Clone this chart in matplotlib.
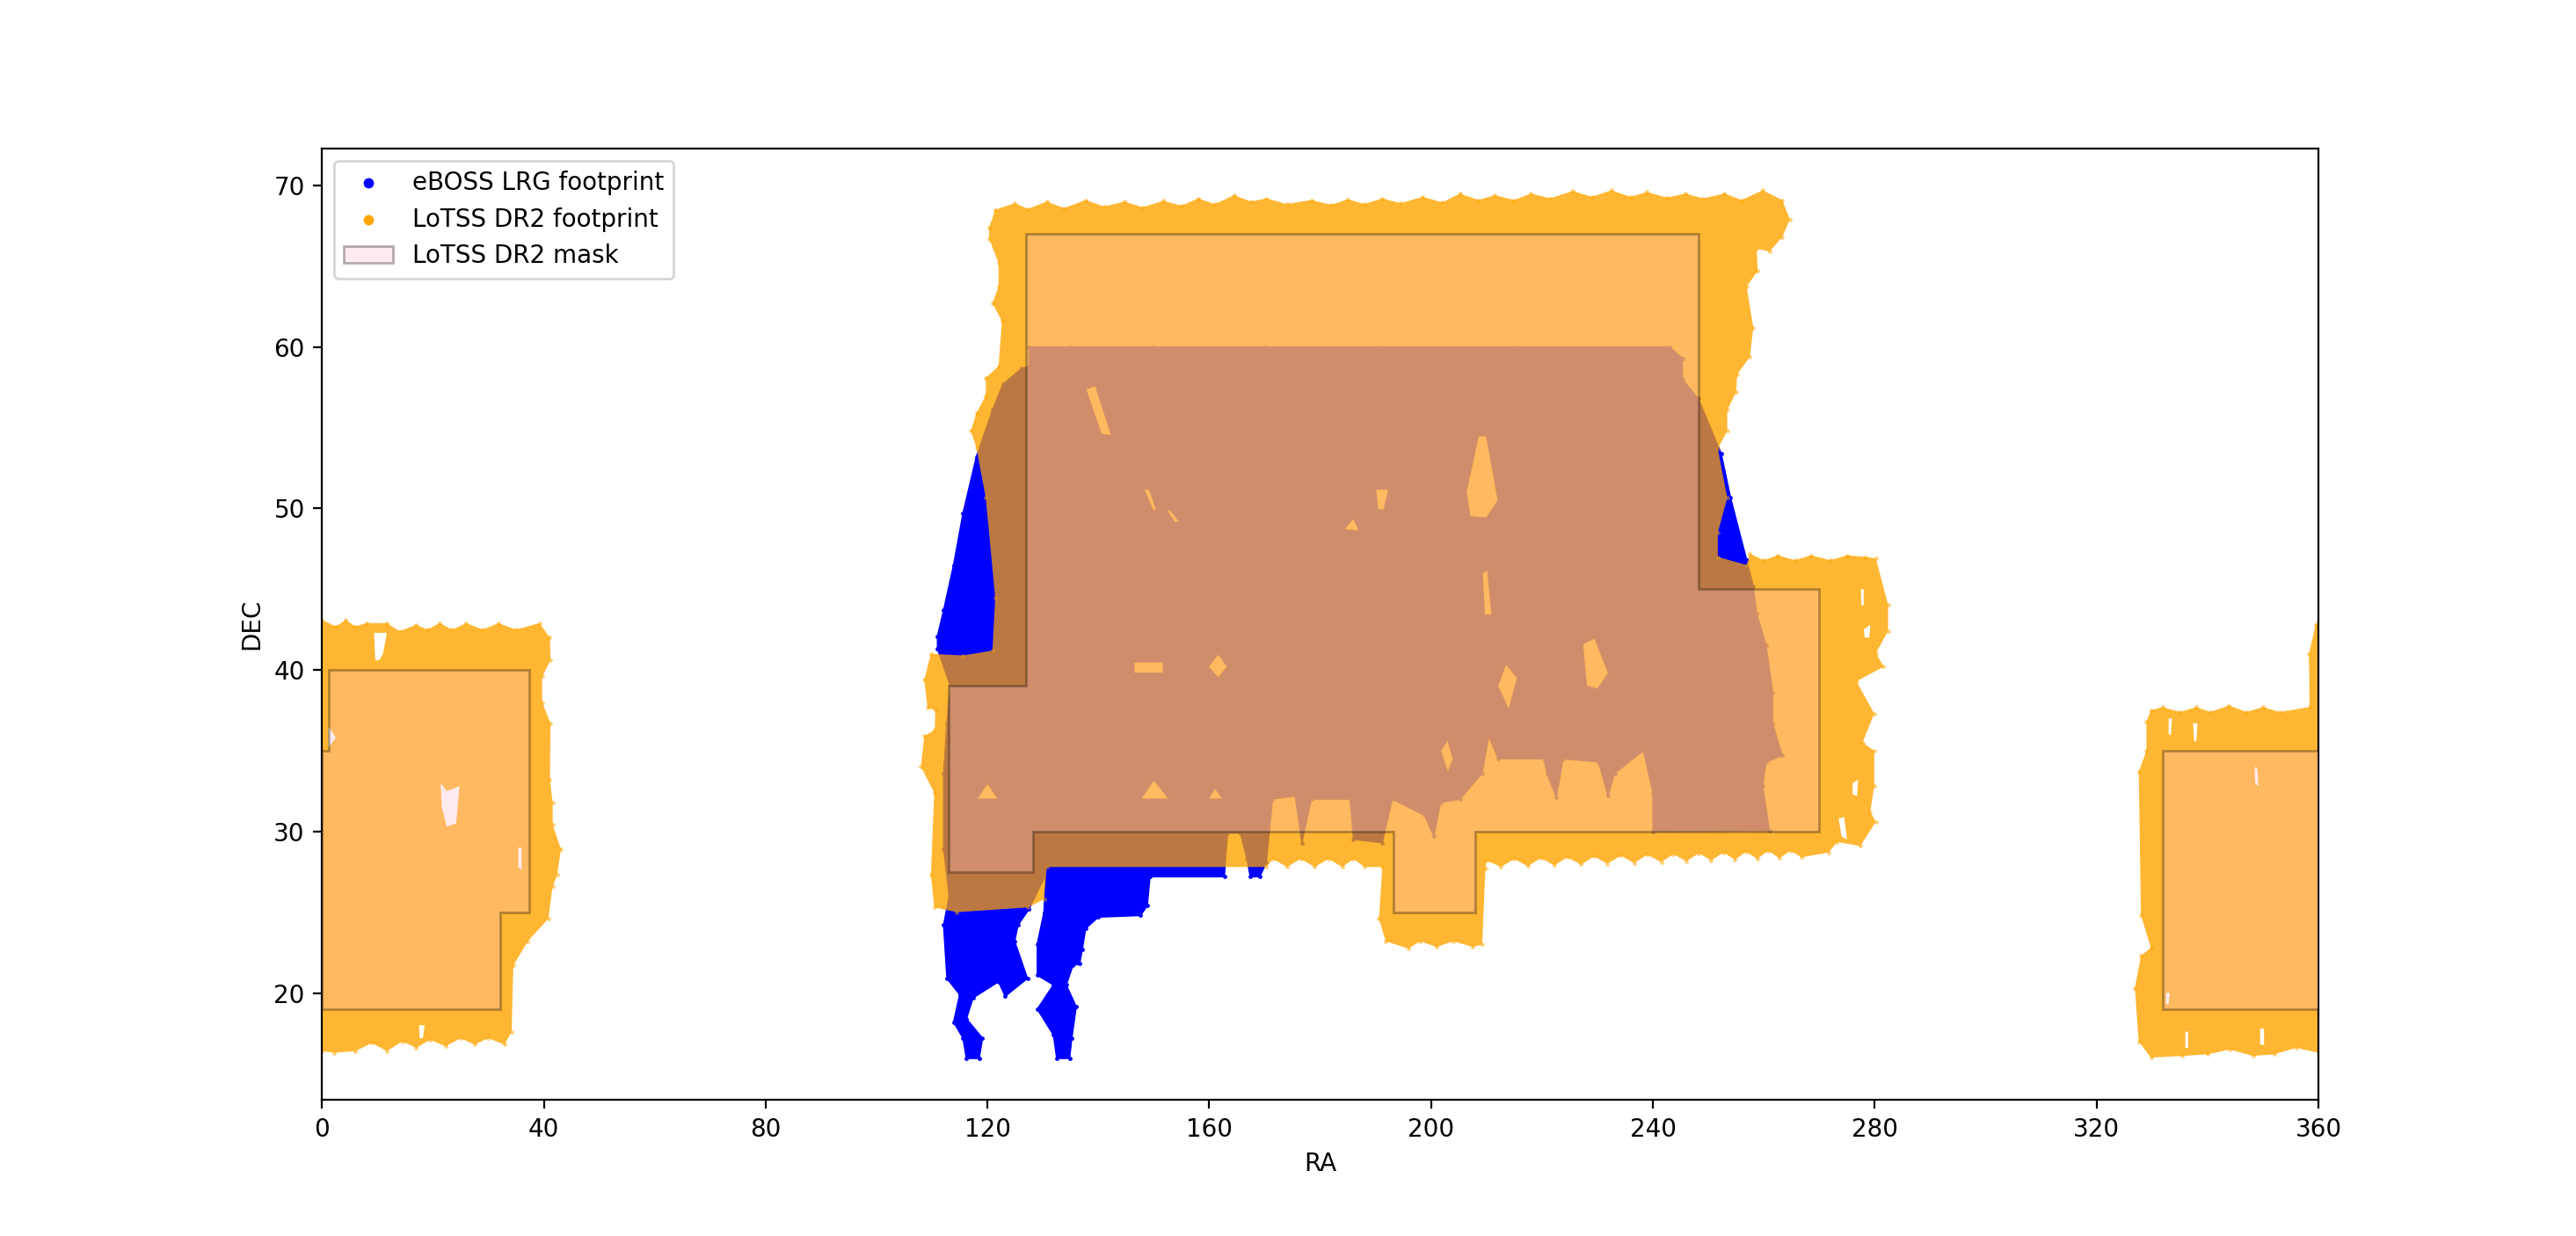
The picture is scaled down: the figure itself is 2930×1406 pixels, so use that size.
import numpy as np
import matplotlib
matplotlib.use('Agg')
import matplotlib.pyplot as plt
from matplotlib.path import Path
from matplotlib.patches import PathPatch

# footprint outlines, (RA, DEC)
eboss_outline = [
    (127.5,60),(135,60),(150,60),(170,60),(190,60),(215,60),(243,60),(245.3,59.3),(245.3,58),(248.2,56.8),
    (252.3,53.4),(254,50.65),(256.9,46.8),(258.1,45.2),(258.7,43.5),(260.4,41.55),(261.6,38.6),(261.6,36.7),
    (263.3,34.7),(260.4,34.3),(259.8,32.8),(261,30.05),(240,30),(240,32.4),(238.3,35),(233.1,33.6),(231.9,32.2),
    (230.2,34.3),(223.8,34.5),(222.6,32.1),(220.9,33.6),(220.3,34.5),(212.1,34.5),(210.4,35.9),(209.2,33.6),
    (205.2,32),(201.7,31.8),(200.5,29.7),(198.8,31),(193,32),(191.2,29.3),(186,29.5),(185.4,32),(178.4,32),
    (176.7,29.3),(175.5,32.2),(171.4,32),(170.3,28.1),(169.1,27.2),(167.4,27.2),(166.8,28.3),(165.6,29.9),
    (163.3,29.9),(162.7,27.2),(149.3,27.2),(148.8,25.4),(147.6,24.8),(140,24.7),(137.7,24),(137.1,22.7),
    (136.6,21.8),(135.4,21.7),(134.2,20.5),(136,19.15),(135.2,17.2),(134.8,15.95),(132.5,15.95),(131.9,17.4),
    (129,19),(131.9,20.5),(129,21.1),(129,23.05),(130.2,25),(130.5,27.3),(127.5,25.2),(125.5,24.2),(124.9,23.2),
    (127.2,20.9),(123.2,19.8),(122,20.7),(117.4,19.7),(116.2,18.4),(119.1,17.2),(118.5,15.95),(116.2,15.95),
    (115.6,17.2),(113.9,18.2),(115,19.9),(112.7,20.9),(112.1,24.2),(113.1,26),(112.1,28.9),(112.1,33.6),
    (112.7,36.7),(113.3,39),(111,41.3),(111,42.1),(112.1,43.7),(113.9,46.5),(115.6,49.7),(118,53.2),(120.9,56.1),
    (122.8,57.7),(126.1,58.65),(127.5,58.8),
]
eboss_holes = [
    [(137.7,57.4),(139.5,57.6),(142.4,54.5),(140.5,54.6)],
    [(208.5,54.5),(210,54.5),(212.1,50.5),(210,49.4),(207,49.5),(206.3,51)],
    [(227.3,41.6),(229.5,42),(232,39.8),(230,38.8),(228,39)],
    [(212,39),(213.5,40.4),(215.6,39.5),(214,37.5)],
    [(201.7,35),(203,35.7),(204,34.5),(203,33.6)],
    [(190,51.2),(192.4,51.2),(191.5,49.9),(190.4,49.9)],
    [(184.2,48.7),(186,49.4),(187.1,48.6)],
    [(148.2,51.2),(149.2,51.2),(150.5,49.9),(149.8,49.9)],
    [(152.3,49.9),(153,49.9),(154.6,49.2),(153.8,49.1)],
    [(209.2,46),(210.2,46.2),(211,43.4),(209.6,43.4)],
    [(146.4,40.5),(151.7,40.5),(151.7,39.8),(146.4,39.8)],
    [(159.8,40.2),(161.6,41),(163.3,40.2),(161.6,39.5)],
    [(118,32),(120,33),(122,32)],
    [(147.6,32),(150,33.2),(152.8,32)],
    [(159.8,32),(161,32.7),(162.5,32)],
]
lotss_main = [
    (120.3,67.4),(121.4,68.5),(124.9,68.9),(127.3,68.55),(130.7,69),(133.8,68.6),(137.7,69.1),(141,68.7),(144.7,69),
    (148,68.65),(151.7,69.05),(155,68.75),(158,69.2),(161,68.85),(164.5,69.4),(167.5,69),(170.3,69.2),(174,68.85),
    (178.4,69.1),(182,68.8),(185,69.15),(188,68.85),(191.2,69.2),(194.5,68.9),(198.5,69.3),(202,68.95),(205.2,69.5),
    (208.5,69.1),(211.5,69.4),(215,69.1),(218,69.5),(221.5,69.2),(225.5,69.66),(229,69.3),(232.5,69.7),(236,69.3),
    (238.9,69.6),(242.5,69.25),(245.9,69.5),(249,69.2),(252.9,69.5),(256,69.1),(259.8,69.7),(263.3,69.1),(264.7,67.9),
    (263.3,66.8),(261,65.9),(258.7,66.1),(258.9,64.7),(256.9,63.75),(258.1,61.2),(257.5,59.4),(255.2,58.3),(255,57.2),
    (253.4,56.1),(253.4,54.8),(251.7,53.7),(253.4,50.65),(251.7,48.5),(251.7,47),(256.9,46.5),(257.5,47.2),
    (260,46.8),(262.5,47.1),(265.6,46.8),(268.5,47.1),(272,46.8),(275,47.1),(278.4,47),(280.2,46.9),(282.4,44.05),
    (282.4,42.4),(280.2,41.05),(281.6,40.2),(276.7,39.3),(279.9,37.3),(277.8,35.5),(279.9,35),(279.9,32.8),(279.2,31.2),
    (280.2,30.6),(277.4,29.1),(273.2,29.35),(271.7,28.7),(266.8,28.4),(264.8,28.8),(262.8,28.35),(260.8,28.8),
    (258.8,28.3),(256.8,28.75),(254.8,28.25),(252.7,28.7),(250.5,28.2),(248.3,28.65),(246,28.15),(243.7,28.6),
    (241.5,28.1),(239,28.55),(236.6,28.05),(234.2,28.5),(231.8,28),(229.4,28.45),(227,27.95),(224.6,28.4),(222.2,27.9),
    (219.8,28.35),(217.4,27.85),(215,28.3),(212.6,27.8),(210,28.2),(209.8,27.7),(209.2,23),(207.5,22.85),(204,23.2),
    (201,22.85),(198,23.2),(195.9,22.75),(191.8,23.2),(190.6,24.6),(191.2,27.8),(188,27.8),(186,28.3),(184,27.8),
    (181.5,28.3),(179,27.8),(176.5,28.3),(174,27.8),(171.5,28.3),(170.3,27.8),(130.7,27.8),(130.2,25.8),(127.3,25.3),
    (114.5,25),(110.4,25.3),(109.8,27.3),(110.4,32.4),(108,34),(108.6,35.9),(110.5,36.3),(110.6,37.5),(109.2,37.65),
    (108.6,39.4),(109.8,41),(115.6,40.9),(120.9,41.2),(121.4,44.47),(119.7,50.65),(118,53.76),(117,54.8),(118,55.9),
    (119.7,57),(119.7,58.1),(122,58.8),(122.6,61.6),(120.9,62.7),(122,63.75),(122,65.2),(120.3,66.7),
]
lotss_main_holes = [
    [(273.5,30.8),(274.5,30.9),(275,29.5),(274,29.7)],
    [(276,33),(277,33.2),(276.8,32.2),(276,32.3)],
    [(277.5,45),(278,45),(278,44),(277.6,44)],
    [(278,42.5),(279.2,42.8),(279,42),(278.2,42)],
]
lotss_left = [
    (0,43.1),(2.5,42.7),(4.3,43.1),(6,42.7),(8,42.9),(11.7,42.9),(14,42.4),(17,42.8),(19,42.5),(21.2,42.9),(23.5,42.5),
    (26,42.9),(29,42.5),(31.8,42.9),(35,42.5),(39.2,42.9),(41.1,42),(41.2,40.6),(39.7,39.6),(39.7,38),(41.2,36.7),
    (41.1,33.2),(41.6,31.8),(41.6,30.4),(43.1,28.9),(42.4,27.3),(41.6,26.6),(40.8,24.6),(37.1,23.2),(34.5,21.7),
    (34.2,17.6),(32.9,16.8),(30,17.2),(27.5,16.8),(25,17.2),(22.3,16.7),(19.5,17.1),(17,16.6),(14.5,17),(11.7,16.4),
    (9,16.9),(6,16.4),(2.2,16.3),(0,16.4),
]
lotss_left_holes = [
    [(9.4,42.3),(11.7,42.3),(11,41),(10.3,40.6),(9.6,40.6)],
    [(21.4,33),(22.5,32.5),(24.8,32.8),(24.2,30.5),(22.5,30.3),(21.6,31.5)],
    [(1.2,36.5),(2.5,35.8),(1.2,35.2)],
    [(35.4,29),(36,29),(36,27.6),(35.4,27.8)],
    [(17.5,18),(18.5,18),(18.2,17.2),(17.6,17.2)],
]
lotss_right = [
    (329.8,37.5),(331.9,37.7),(335,37.4),(338,37.7),(340.5,37.4),(343.9,37.8),(347,37.4),(350,37.7),(353,37.4),(358.4,37.7),
    (358.3,41),(359.5,42.8),(360,43),(360,16.3),(356,16.6),(352,16.2),(348.2,16.1),(344,16.5),(340,16.2),(335.4,16.1),
    (329.8,16),(327.6,17),(326.9,20.3),(328,22.3),(329.8,22.8),(328,24.8),(327.6,33.7),(329,35),(329,36.8),
]
lotss_right_holes = [
    [(348.5,34),(349,33.9),(349.2,32.8),(348.6,33)],
    [(332.5,20),(333.2,20),(333,19.3),(332.5,19.3)],
    [(337.4,36.7),(338.2,36.7),(338,35.6),(337.6,35.6)],
    [(333,37),(333.6,37),(333.4,36),(333,36)],
    [(336,17.6),(336.5,17.6),(336.5,16.6),(336,16.6)],
    [(349.5,17.8),(350.2,17.8),(350.2,16.8),(349.5,16.8)],
]
mask_main = [
    (113,27.5),(128.2,27.5),(128.2,30),(193.2,30),(193.2,25),(208,25),(208,30),(270,30),(270,45),(248.2,45),
    (248.2,67),(127,67),(127,39),(113,39),
]
mask_left = [(0,19),(32.2,19),(32.2,25),(37.3,25),(37.3,40),(1.2,40),(1.2,35),(0,35)]
mask_right = [(332,19),(360,19),(360,35),(332,35)]

ra_ticks = [0, 40, 80, 120, 160, 200, 240, 280, 320, 360]
dec_ticks = [20, 30, 40, 50, 60, 70]


def signed_area(pts):
    p = np.array(pts)
    return 0.5 * np.sum(p[:, 0] * np.roll(p[:, 1], -1) - np.roll(p[:, 0], -1) * p[:, 1])


def region(outline, holes=()):
    # holes need the opposite winding to the outline
    verts, codes = [], []
    for i, pts in enumerate([outline] + list(holes)):
        pts = list(pts)
        want_ccw = i == 0
        if (signed_area(pts) > 0) != want_ccw:
            pts = pts[::-1]
        verts += pts + [pts[0]]
        codes += [Path.MOVETO] + [Path.LINETO] * (len(pts) - 1) + [Path.CLOSEPOLY]
    return Path(verts, codes)


fig, ax = plt.subplots(figsize=(14.65, 7.03), dpi=200)

eboss_path = region(eboss_outline, eboss_holes)
ax.add_patch(PathPatch(eboss_path, fc='blue', ec='blue', lw=0.6, zorder=1))
ax.scatter(*zip(*eboss_outline), s=3, c='blue', linewidths=0, label='eBOSS LRG footprint', zorder=1)

for outline, holes in [(lotss_main, lotss_main_holes), (lotss_left, lotss_left_holes), (lotss_right, lotss_right_holes)]:
    ax.add_patch(PathPatch(region(outline, holes), fc='orange', ec='none', alpha=0.8, zorder=2))
ax.scatter(*zip(*lotss_main), s=3, c='orange', alpha=0.5, linewidths=0, label='LoTSS DR2 footprint', zorder=2)
ax.scatter(*zip(*lotss_left), s=3, c='orange', alpha=0.5, linewidths=0, zorder=2)
ax.scatter(*zip(*lotss_right), s=3, c='orange', alpha=0.5, linewidths=0, zorder=2)

# a bit of blue shows through the orange where they overlap
ax.add_patch(PathPatch(eboss_path, fc='blue', ec='none', alpha=0.08, zorder=2.5))

ax.fill(*zip(*mask_main), fc='pink', ec='black', alpha=0.3, lw=1, label='LoTSS DR2 mask', zorder=3)
ax.fill(*zip(*mask_left), fc='pink', ec='black', alpha=0.3, lw=1, zorder=3)
ax.fill(*zip(*mask_right), fc='pink', ec='black', alpha=0.3, lw=1, zorder=3)

ax.set_xlim(0, 360)
ax.set_ylim(13.37, 72.3)
ax.set_xticks(ra_ticks)
ax.set_yticks(dec_ticks)
ax.set_xlabel('RA')
ax.set_ylabel('DEC')

leg = ax.legend(loc='upper left')
for h in leg.legend_handles[:2]:
    h.set_sizes([18])
    h.set_alpha(1)

fig.savefig('out.png', dpi=200)
